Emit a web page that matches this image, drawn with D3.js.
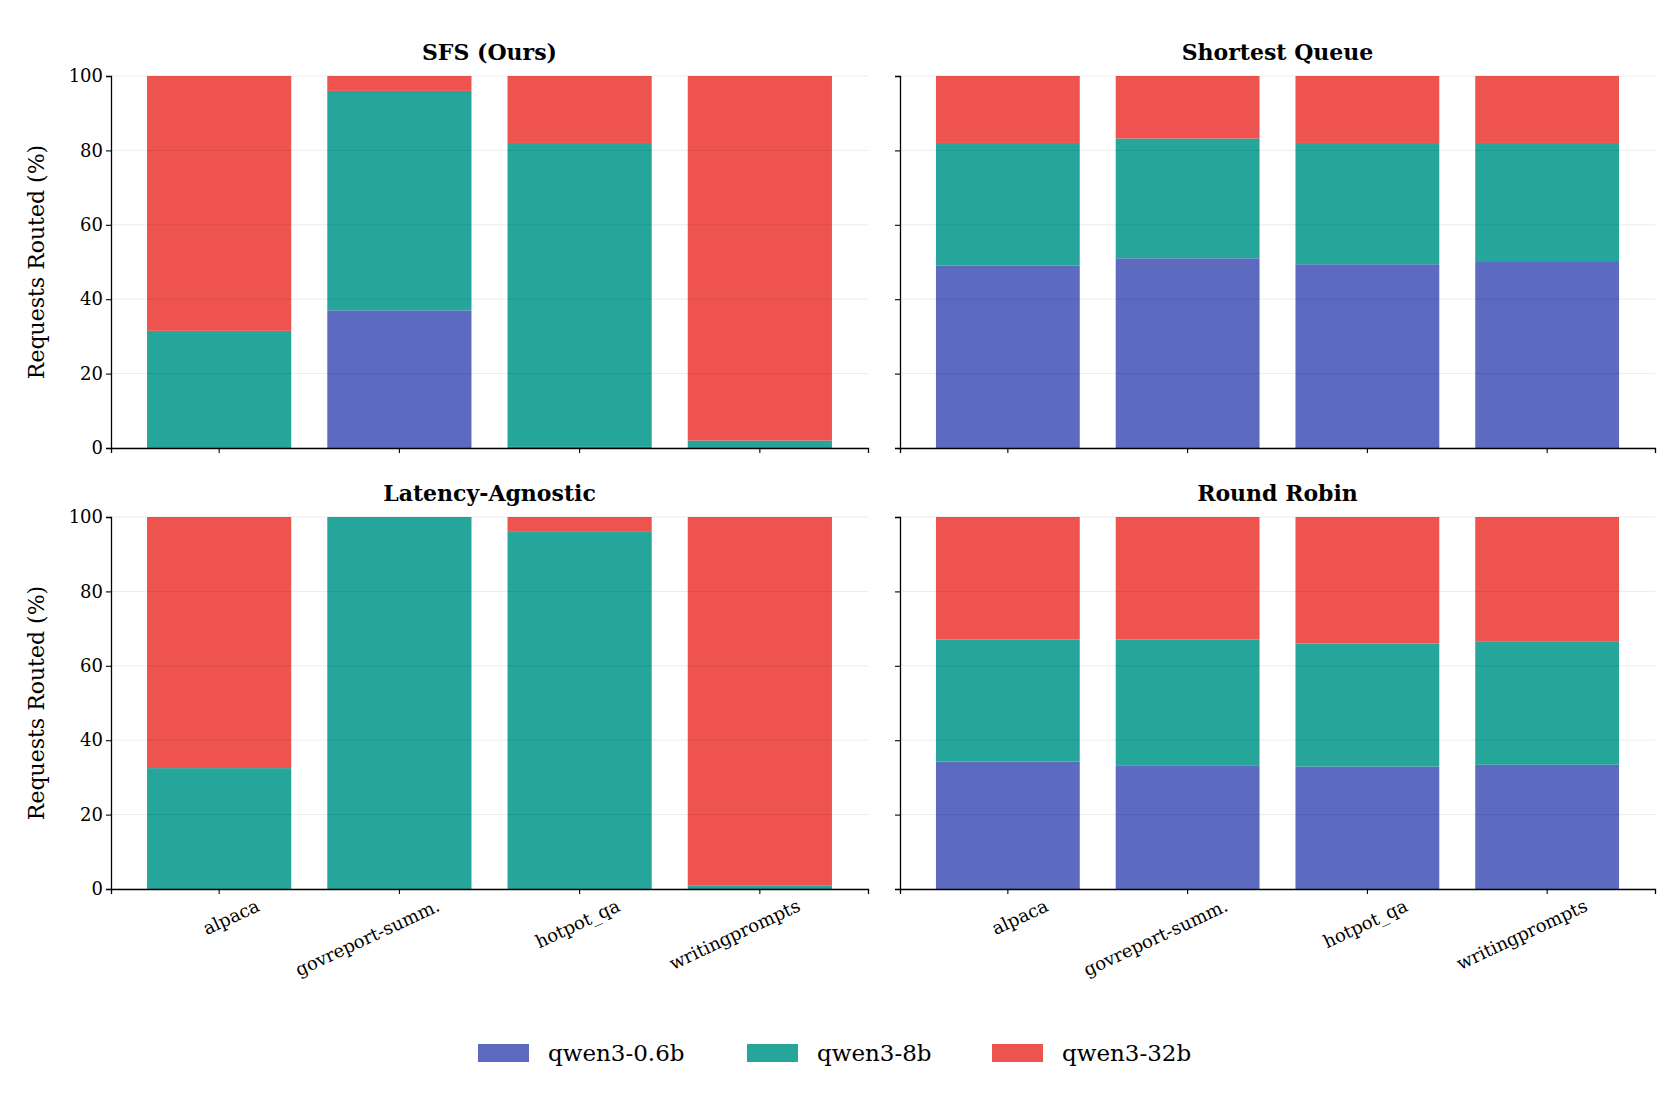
<!DOCTYPE html>
<html><head><meta charset="utf-8">
<script src="https://cdn.jsdelivr.net/npm/d3@7"></script>
<style>body{margin:0;background:#fff}svg{font-family:"DejaVu Serif",serif}</style>
</head><body><svg id="c" width="1680" height="1110"></svg>
<script>
const categories=["alpaca","govreport-summ.","hotpot_qa","writingprompts"];
const models=["qwen3-0.6b","qwen3-8b","qwen3-32b"];
const colors=["#5c6bc0","#26a69a","#ef5350"];
const titles=["SFS (Ours)","Shortest Queue","Latency-Agnostic","Round Robin"];
const sfs=[[0,31.5,68.5],[37,59,4],[0.3,81.7,18],[0,2,98]];
const shortestQueue=[[49,33,18],[51,32.2,16.8],[49.4,32.6,18],[50,32,18]];
const latencyAgnostic=[[0,32.5,67.5],[0,100,0],[0,96,4],[0,1,99]];
const roundRobin=[[34.3,32.8,32.9],[33.1,34,32.9],[32.9,33.1,34],[33.4,33.2,33.4]];
const yTicks=[0,20,40,60,80,100];
const panels=[sfs,shortestQueue,latencyAgnostic,roundRobin];
const svg=d3.select("#c");
const X=[[111,868],[900,1655]],Y=[[76,448],[517,889]];
panels.forEach((data,i)=>{
  const col=i%2,row=Math.floor(i/2);
  const x=d3.scaleBand().domain(categories).range(X[col]).paddingInner(0.2).paddingOuter(0.2);
  const y=d3.scaleLinear().domain([0,100]).range([Y[row][1],Y[row][0]]);
  const g=svg.append("g");
  data.forEach((vals,ci)=>{let acc=0;vals.forEach((v,mi)=>{
    g.append("rect").attr("x",x(categories[ci])).attr("width",x.bandwidth())
     .attr("y",y(acc+v)).attr("height",y(acc)-y(acc+v)).attr("fill",colors[mi]);acc+=v;});});
  g.selectAll(".gl").data(yTicks).enter().append("line").attr("x1",X[col][0]).attr("x2",X[col][1])
   .attr("y1",d=>y(d)).attr("y2",d=>y(d)).attr("stroke","#000").attr("stroke-opacity",0.08);
  const ya=g.append("g").attr("transform",`translate(${X[col][0]},0)`)
   .call(d3.axisLeft(y).tickValues(yTicks).tickSize(5).tickFormat(col===0?d3.format("d"):""));
  ya.selectAll("text").attr("font-size",18).attr("font-family","DejaVu Serif");
  const xa=g.append("g").attr("transform",`translate(0,${Y[row][1]})`)
   .call(d3.axisBottom(x).tickSize(5).tickFormat(row===1?(d=>d):""));
  xa.selectAll("text").attr("font-size",18).attr("font-family","DejaVu Serif")
   .attr("text-anchor","end").attr("transform","rotate(-25)").attr("dx","1.6em").attr("dy","1.6em");
  [ya,xa].forEach(a=>{a.select(".domain").attr("stroke-width",1.3);a.selectAll("line").attr("stroke-width",1.1);});
  svg.append("text").attr("x",(X[col][0]+X[col][1])/2).attr("y",Y[row][0]-16).attr("text-anchor","middle")
   .attr("font-size",22).attr("font-weight","bold").text(titles[i]);
  if(col===0) svg.append("text").attr("transform",`translate(44,${(Y[row][0]+Y[row][1])/2}) rotate(-90)`)
   .attr("text-anchor","middle").attr("font-size",22).text("Requests Routed (%)");
});
const lx=[478,747,992];
models.forEach((m,i)=>{
  svg.append("rect").attr("x",lx[i]).attr("y",1044).attr("width",51).attr("height",18).attr("fill",colors[i]);
  svg.append("text").attr("x",lx[i]+70).attr("y",1061).attr("font-size",23).text(m);
});
</script></body></html>
